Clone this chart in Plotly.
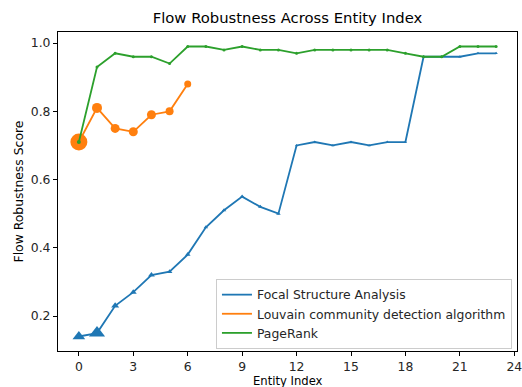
import plotly.graph_objects as go

x_fsa = list(range(24))
fsa = [0.14, 0.15, 0.23, 0.27, 0.32, 0.33, 0.38, 0.46, 0.51, 0.55, 0.52, 0.50,
       0.70, 0.71, 0.70, 0.71, 0.70, 0.71, 0.71, 0.96, 0.96, 0.96, 0.97, 0.97]
fsa_sizes = [11, 14, 7, 6, 6, 5, 5, 4, 4, 4, 4, 4, 3, 3, 3, 3, 3, 3, 3, 3, 3, 3, 3, 3]

x_lou = list(range(7))
lou = [0.71, 0.81, 0.75, 0.74, 0.79, 0.80, 0.88]
lou_sizes = [17, 10, 9, 9, 9, 8, 7]

x_pr = list(range(24))
pr = [0.71, 0.93, 0.97, 0.96, 0.96, 0.94, 0.99, 0.99, 0.98, 0.99, 0.98, 0.98,
      0.97, 0.98, 0.98, 0.98, 0.98, 0.98, 0.97, 0.96, 0.96, 0.99, 0.99, 0.99]
pr_sizes = [4] + [3] * 23

names = ["Focal Structure Analysis", "Louvain community detection algorithm", "PageRank"]
colors = ["#1f77b4", "#ff7f0e", "#2ca02c"]

x_ticks = [0, 3, 6, 9, 12, 15, 18, 21, 24]
y_ticks = [0.2, 0.4, 0.6, 0.8, 1.0]

title_text = "Flow Robustness Across Entity Index"
x_title = "Entity Index"
y_title = "Flow Robustness Score"

FONT = "DejaVu Sans"
FS = 12.4
W, H = 522, 387
L, R, T, B = 58, 5, 32, 36
PW, PH = W - L - R, H - T - B

fig = go.Figure()
series = [(x_fsa, fsa, fsa_sizes, "triangle-up"),
          (x_lou, lou, lou_sizes, "circle"),
          (x_pr, pr, pr_sizes, "circle")]
for (xs, ys, sz, sym), name, col in zip(series, names, colors):
    fig.add_trace(go.Scatter(x=xs, y=ys, mode="lines+markers", name=name, showlegend=False,
                             line=dict(color=col, width=1.8),
                             marker=dict(symbol=sym, size=sz, color=col, opacity=1,
                                         line=dict(width=0))))
for name, col in zip(names, colors):
    fig.add_trace(go.Scatter(x=[None], y=[None], mode="lines", name=name,
                             line=dict(color=col, width=1.8)))

axis_common = dict(showgrid=False, zeroline=False, showline=True, linecolor="black", linewidth=1,
                   mirror=True, ticks="outside", ticklen=4, tickcolor="black", tickwidth=1,
                   automargin=False, ticklabeloverflow="allow",
                   tickfont=dict(family=FONT, size=FS, color="#262626"))

fig.update_layout(
    width=W, height=H,
    margin=dict(l=L, r=R, t=T, b=B, autoexpand=False),
    plot_bgcolor="white", paper_bgcolor="white",
    font=dict(family=FONT, size=FS, color="black"),
    title=dict(text=title_text, x=(L + W - R) / 2 / W, xanchor="center",
               y=1 - 18 / H, yanchor="middle", font=dict(family=FONT, size=14.8, color="black")),
    xaxis=dict(range=[-1.15, 24.15], tickmode="array", tickvals=x_ticks,
               ticktext=[str(v) for v in x_ticks], **axis_common),
    yaxis=dict(range=[0.0975, 1.0325], tickmode="array", tickvals=y_ticks,
               ticktext=[f"{v:.1f}" for v in y_ticks], **axis_common),
    showlegend=True,
    legend=dict(x=0.989, y=0.006, xanchor="right", yanchor="bottom",
                bgcolor="rgba(255,255,255,0.8)", bordercolor="#cccccc", borderwidth=1,
                font=dict(family=FONT, size=FS, color="#262626"), itemwidth=30,
                tracegroupgap=0),
    annotations=[
        dict(text=x_title, xref="paper", yref="paper", x=0.5, y=-(380.5 - (T + PH)) / PH,
             xanchor="center", yanchor="middle", showarrow=False,
             font=dict(family=FONT, size=11.6, color="black")),
        dict(text=y_title, xref="paper", yref="paper", x=-(L - 18) / PW, y=0.5,
             xanchor="center", yanchor="middle", showarrow=False, textangle=-90,
             font=dict(family=FONT, size=FS, color="black")),
    ],
)

fig.write_html("out.html")
